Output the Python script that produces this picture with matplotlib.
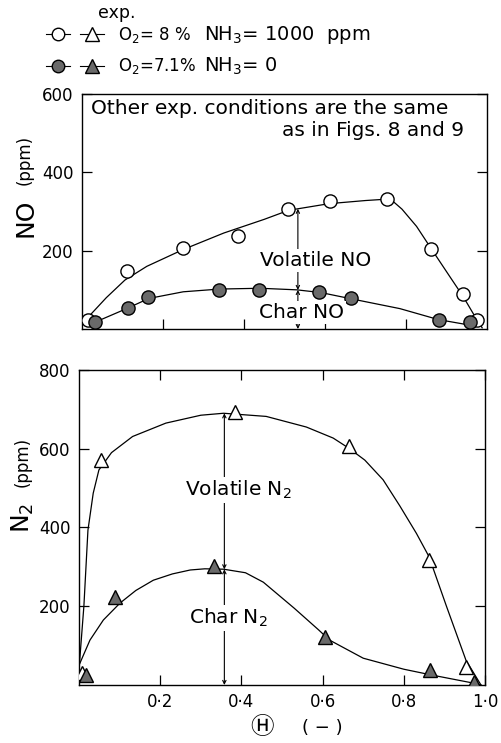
import numpy as np
import matplotlib
matplotlib.use("Agg")
import matplotlib.pyplot as plt
from matplotlib.lines import Line2D
from matplotlib.legend_handler import HandlerTuple

# ---- data ----
# NO panel: measured points
theta_no_open = [0.016, 0.111, 0.249, 0.384, 0.508, 0.612, 0.752, 0.861, 0.941, 0.975]
no_open = [24, 147, 208, 238, 307, 326, 333, 204, 89, 24]
theta_no_fill = [0.033, 0.113, 0.164, 0.339, 0.437, 0.585, 0.664, 0.882, 0.957]
no_fill = [18, 54, 81, 99, 99, 94, 79, 22, 18]

# NO panel: hand-drawn curves
theta_no_vol_curve = [0.015, 0.06, 0.106, 0.16, 0.25, 0.35, 0.45, 0.51, 0.61, 0.70, 0.745,
                      0.77, 0.79, 0.826, 0.861, 0.908, 0.941, 0.965, 0.988]
no_vol_curve = [30, 80, 125, 160, 203, 245, 280, 303, 320, 328, 331,
                324, 306, 262, 207, 134, 83, 41, 3]
theta_no_char_curve = [0.02, 0.11, 0.165, 0.25, 0.34, 0.44, 0.53, 0.59, 0.665, 0.785, 0.88, 0.946, 0.97]
no_char_curve = [12, 52, 78, 95, 102, 104, 100, 93, 77, 52, 24, 12, 4]

# N2 panel: measured points
theta_n2_open = [0.008, 0.053, 0.383, 0.665, 0.862, 0.953]
n2_open = [30, 571, 694, 607, 318, 46]
theta_n2_fill = [0.018, 0.089, 0.333, 0.605, 0.864, 0.972]
n2_fill = [25, 224, 302, 121, 38, 8]

# N2 panel: hand-drawn curves
theta_n2_vol_curve = [0.0, 0.012, 0.022, 0.035, 0.049, 0.08, 0.132, 0.214, 0.30, 0.356, 0.461,
                      0.56, 0.626, 0.665, 0.704, 0.749, 0.79, 0.831, 0.862, 0.905, 0.953, 0.99]
n2_vol_curve = [40, 200, 393, 487, 546, 590, 631, 665, 685, 690, 682,
                655, 627, 601, 571, 521, 455, 385, 326, 200, 63, 0]
theta_n2_char_curve = [0.0, 0.027, 0.06, 0.101, 0.14, 0.183, 0.23, 0.274, 0.31, 0.356, 0.41,
                       0.454, 0.53, 0.59, 0.617, 0.70, 0.80, 0.87, 0.97, 0.99]
n2_char_curve = [50, 114, 165, 208, 240, 266, 282, 292, 295, 294, 285,
                 261, 195, 140, 114, 68, 40, 25, 5, 0]

x_ticks = [0.2, 0.4, 0.6, 0.8, 1.0]
x_tick_labels = ["0·2", "0·4", "0·6", "0·8", "1·0"]

grey = "#6a6a6a"
lw = 0.9

fig = plt.figure(figsize=(5.01, 7.43), dpi=100)
ax1 = fig.add_axes([0.1637, 0.5572, 0.8084, 0.3163])
ax2 = fig.add_axes([0.1577, 0.0781, 0.8104, 0.4240])

# ---- NO panel ----
ax1.plot(theta_no_vol_curve, no_vol_curve, color="k", lw=lw)
ax1.plot(theta_no_char_curve, no_char_curve, color="k", lw=lw)
ax1.plot(theta_no_open, no_open, "o", ms=9.5, mfc="white", mec="k", mew=1, zorder=3)
ax1.plot(theta_no_fill, no_fill, "o", ms=9.5, mfc=grey, mec="k", mew=1, zorder=4)

ax1.set_xlim(0, 1)
ax1.set_ylim(0, 600)
ax1.set_yticks([200, 400, 600])
ax1.set_xticks(x_ticks[:-1])
ax1.set_xticklabels([])
ax1.tick_params(direction="in", length=7, width=0.9, right=True, labelsize=12, pad=6)

ax1.text(0.022, 0.94, "Other exp. conditions are the same", transform=ax1.transAxes,
         fontsize=14.5, va="center", ha="left")
ax1.text(0.943, 0.845, "as in Figs. 8 and 9", transform=ax1.transAxes,
         fontsize=14.5, va="center", ha="right")

t_arrow1 = 0.533
top1 = np.interp(t_arrow1, theta_no_vol_curve, no_vol_curve)
mid1 = np.interp(t_arrow1, theta_no_char_curve, no_char_curve)
arr = dict(arrowstyle="<->", lw=0.8, color="k", shrinkA=0, shrinkB=0, mutation_scale=6)
ax1.annotate("", xy=(t_arrow1, top1), xytext=(t_arrow1, mid1), arrowprops=arr)
ax1.annotate("", xy=(t_arrow1, mid1), xytext=(t_arrow1, 0), arrowprops=arr)
box = dict(facecolor="white", edgecolor="none", pad=1.5)
ax1.text(0.578, 176, "Volatile NO", fontsize=14.5, ha="center", va="center", bbox=box, zorder=5)
ax1.text(0.541, 41, "Char NO", fontsize=14.5, ha="center", va="center", bbox=box, zorder=5)

# ---- N2 panel ----
ax2.plot(theta_n2_vol_curve, n2_vol_curve, color="k", lw=lw)
ax2.plot(theta_n2_char_curve, n2_char_curve, color="k", lw=lw)
ax2.plot(theta_n2_open, n2_open, "^", ms=10.5, mfc="white", mec="k", mew=1, zorder=3)
ax2.plot(theta_n2_fill, n2_fill, "^", ms=10.5, mfc=grey, mec="k", mew=1, zorder=4)

ax2.set_xlim(0, 1)
ax2.set_ylim(0, 800)
ax2.set_yticks([200, 400, 600, 800])
ax2.set_xticks(x_ticks)
ax2.set_xticklabels(x_tick_labels)
ax2.tick_params(direction="in", length=7, width=0.9, right=True, top=True, labelsize=12, pad=6)

t_arrow2 = 0.358
top2 = np.interp(t_arrow2, theta_n2_vol_curve, n2_vol_curve)
mid2 = np.interp(t_arrow2, theta_n2_char_curve, n2_char_curve)
ax2.annotate("", xy=(t_arrow2, top2), xytext=(t_arrow2, mid2), arrowprops=arr)
ax2.annotate("", xy=(t_arrow2, mid2), xytext=(t_arrow2, 0), arrowprops=arr)
ax2.text(0.393, 495, "Volatile N$_2$", fontsize=14.5, ha="center", va="center", bbox=box, zorder=5)
ax2.text(0.368, 170, "Char N$_2$", fontsize=14.5, ha="center", va="center", bbox=box, zorder=5)

for ax in (ax1, ax2):
    for s in ax.spines.values():
        s.set_linewidth(1.0)

# axis labels
fig.text(0.05, 0.7066, "NO", rotation=90, fontsize=18, ha="center", va="center")
fig.text(0.05, 0.7847, "(ppm)", rotation=90, fontsize=12, ha="center", va="center")
fig.text(0.046, 0.3028, "N$_2$", rotation=90, fontsize=18, ha="center", va="center")
fig.text(0.046, 0.378, "(ppm)", rotation=90, fontsize=12, ha="center", va="center")
fig.text(262 / 501, 1 - 728 / 743, "Ⓗ", fontsize=17, ha="center", va="center",
         family=["Noto Sans CJK JP", "DejaVu Sans"])
fig.text(322 / 501, 1 - 728 / 743, "( − )", fontsize=13, ha="center", va="center")

# legend
h_oc = Line2D([], [], color="k", lw=0.8, marker="o", ms=9, mfc="white", mec="k")
h_ot = Line2D([], [], color="k", lw=0.8, marker="^", ms=10, mfc="white", mec="k")
h_fc = Line2D([], [], color="k", lw=0.8, marker="o", ms=9, mfc=grey, mec="k")
h_ft = Line2D([], [], color="k", lw=0.8, marker="^", ms=10, mfc=grey, mec="k")
fig.legend([(h_oc, h_ot), (h_fc, h_ft)],
           ["O$_2$= 8 %", "O$_2$=7.1%"],
           handler_map={tuple: HandlerTuple(ndivide=None, pad=0.6)},
           loc="upper left", bbox_to_anchor=(46 / 501, 1 - 25 / 743),
           frameon=False, fontsize=12, handlelength=3.45, handletextpad=0.9,
           labelspacing=0.68, borderpad=0, borderaxespad=0)
fig.text(204 / 501, 1 - 35 / 743, "NH$_3$= 1000  ppm", fontsize=14, ha="left", va="center")
fig.text(204 / 501, 1 - 66 / 743, "NH$_3$= 0", fontsize=14, ha="left", va="center")
fig.text(117 / 501, 1 - 13 / 743, "exp.", fontsize=12.5, ha="center", va="center")

fig.savefig("out.png", dpi=100)
